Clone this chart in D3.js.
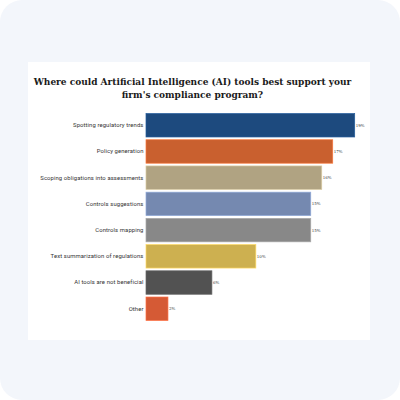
<!DOCTYPE html>
<html>
<head>
<meta charset="utf-8">
<script src="https://cdn.jsdelivr.net/npm/d3@7"></script>
<style>
  html, body { margin: 0; padding: 0; background: #fff; }
  #chart { width: 400px; height: 400px; }
</style>
</head>
<body>
<div id="chart"></div>
<script>
(function() {
  'use strict';

  // Data
  const categories = [
    'Spotting regulatory trends',
    'Policy generation',
    'Scoping obligations into assessments',
    'Controls suggestions',
    'Controls mapping',
    'Text summarization of regulations',
    'AI tools are not beneficial',
    'Other'
  ];
  const values = [19, 17, 16, 15, 15, 10, 6, 2];
  const colors = ['#1d4a7e', '#c9602f', '#b0a382', '#7589b0', '#888888', '#cdb050', '#525252', '#d55a35'];
  const titleLines = [
    'Where could Artificial Intelligence (AI) tools best support your',
    "firm's compliance program?"
  ];

  const width = 400, height = 400;
  const svg = d3.select('#chart').append('svg')
    .attr('width', width)
    .attr('height', height)
    .attr('viewBox', [0, 0, width, height]);

  // Card background + white panel
  svg.append('rect')
    .attr('width', width).attr('height', height)
    .attr('rx', 22).attr('fill', '#f3f6fb');
  svg.append('rect')
    .attr('x', 28).attr('y', 62)
    .attr('width', 342).attr('height', 278)
    .attr('fill', '#ffffff');

  // Title
  svg.append('text')
    .attr('text-anchor', 'middle')
    .attr('font-family', '"DejaVu Serif", serif')
    .attr('font-weight', 'bold')
    .attr('font-size', '9px')
    .attr('fill', '#1a1a1a')
    .selectAll('tspan')
    .data(titleLines)
    .join('tspan')
    .attr('x', 192.5)
    .attr('y', (d, i) => 85 + i * 12.8)
    .text(d => d);

  // Scales
  const x = d3.scaleLinear().domain([0, 19]).range([146, 354.7]);
  const y = d3.scaleBand().domain(categories).range([113, 321]).paddingInner(0.105).paddingOuter(0.02);

  // Bars
  svg.append('g')
    .selectAll('rect')
    .data(categories)
    .join('rect')
    .attr('x', x(0))
    .attr('y', d => y(d))
    .attr('width', (d, i) => x(values[i]) - x(0))
    .attr('height', y.bandwidth())
    .attr('fill', (d, i) => colors[i])
    .attr('stroke', (d, i) => d3.color(colors[i]).brighter(0.6))
    .attr('stroke-width', 0.7);

  // Category labels (axis without line/ticks)
  const yAxis = svg.append('g')
    .attr('transform', `translate(${x(0)},0)`)
    .call(d3.axisLeft(y).tickSize(0).tickPadding(2.5));
  yAxis.select('.domain').remove();
  yAxis.selectAll('text')
    .attr('font-family', 'Roboto, sans-serif')
    .attr('font-size', '5.9px')
    .attr('letter-spacing', '0.1px')
    .attr('fill', '#333');

  // Value labels
  svg.append('g')
    .selectAll('text')
    .data(categories)
    .join('text')
    .attr('x', (d, i) => x(values[i]) + 1)
    .attr('y', d => y(d) + y.bandwidth() / 2)
    .attr('dy', '0.35em')
    .attr('font-family', '"DejaVu Serif", serif')
    .attr('font-size', '4px')
    .attr('fill', '#444')
    .text((d, i) => values[i] + '%');
})();
</script>
</body>
</html>
